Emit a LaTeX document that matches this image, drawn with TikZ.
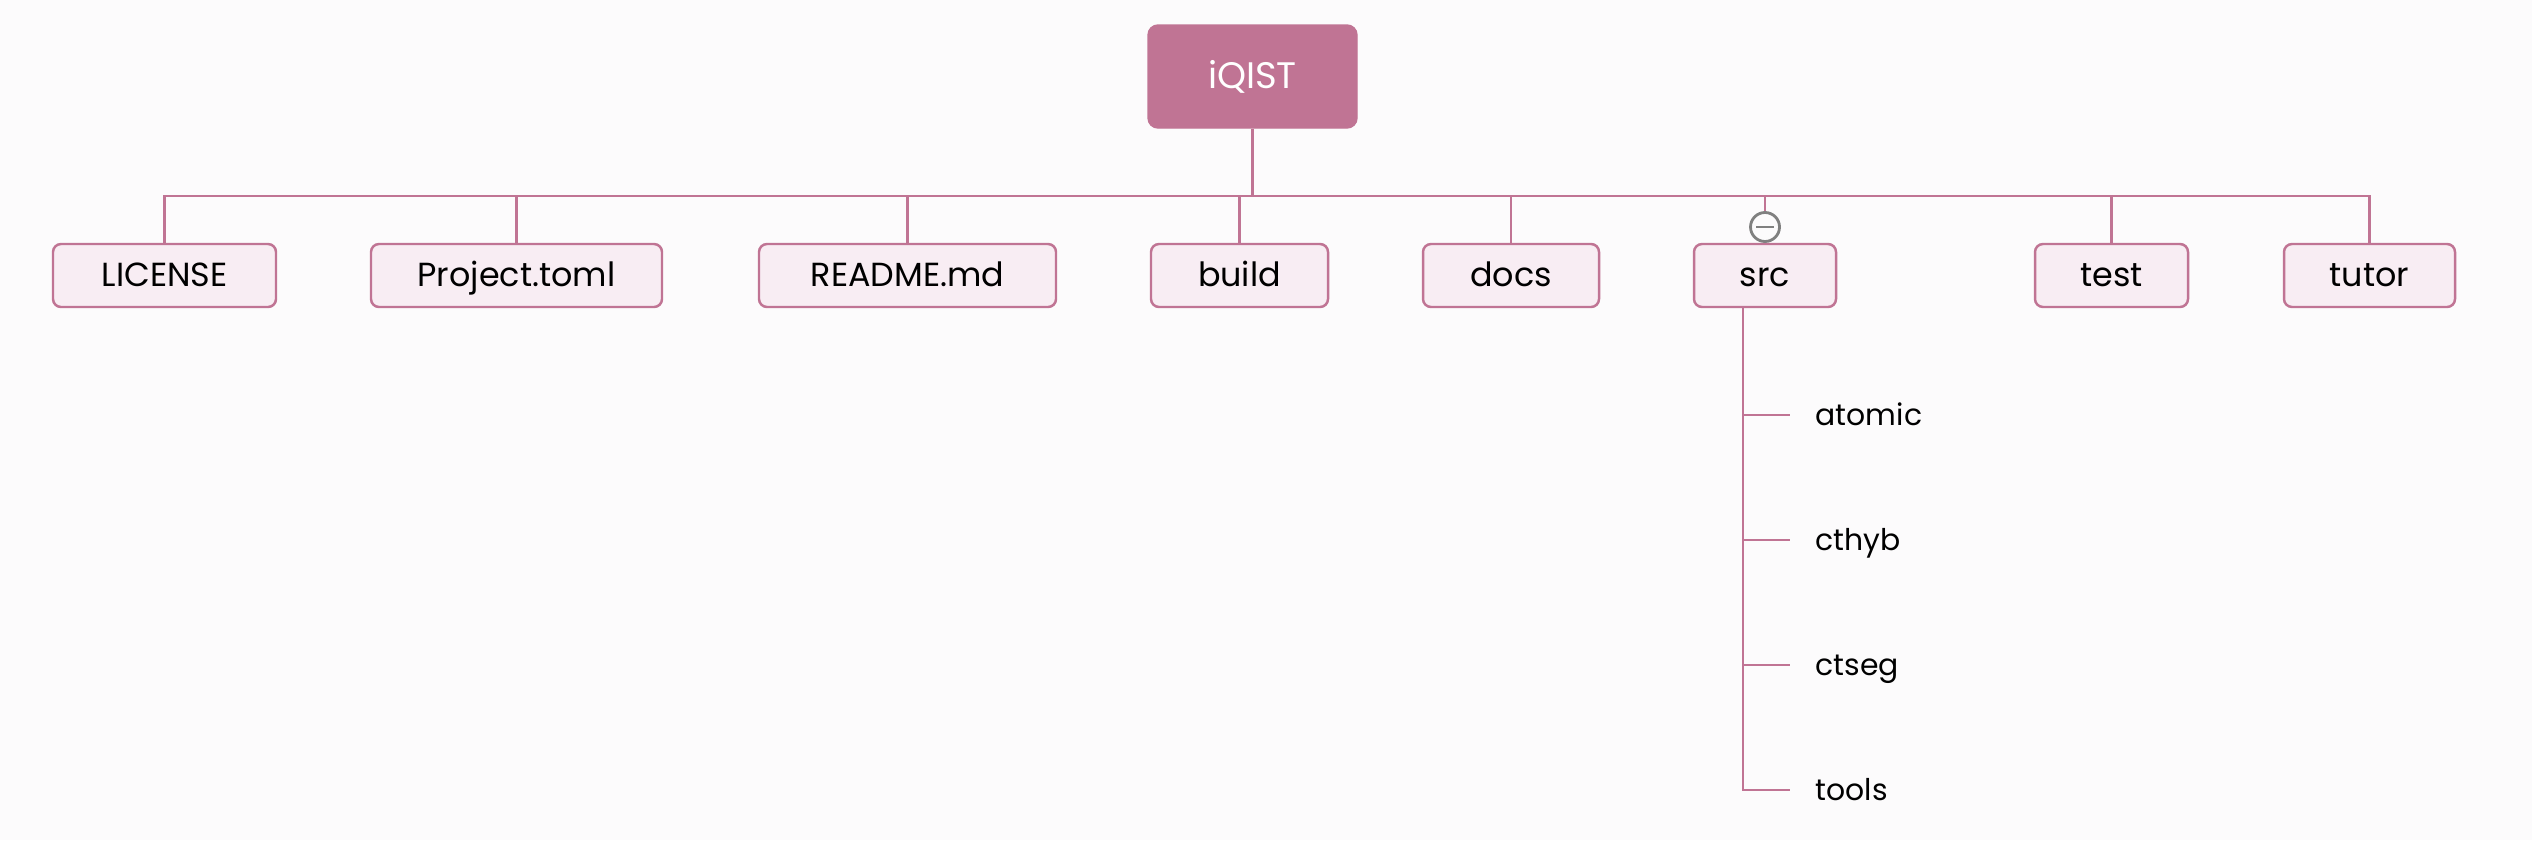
\documentclass[tikz,border=0pt]{standalone}
\usepackage{fontspec}
\setmainfont{Poppins}
\usetikzlibrary{positioning}
\definecolor{bgcol}{HTML}{FCFBFC}
\definecolor{rose}{HTML}{C07494}
\definecolor{leafcol}{HTML}{F8EDF3}
\definecolor{foldcol}{HTML}{808080}

\begin{document}
\begin{tikzpicture}[
    rootbox/.style={fill=rose, draw=rose, rounded corners=0.1cm, text=white,
      minimum width=2.09cm, minimum height=1.03cm, font=\fontsize{10.5}{13}\selectfont},
    leafbox/.style={fill=leafcol, draw=rose, line width=0.7pt, rounded corners=0.08cm,
      minimum height=0.63cm, text height=0.8em, text depth=0.18em,
      font=\fontsize{9.5}{11}\selectfont},
    sublabel/.style={anchor=west, inner xsep=0.25cm, text height=0.78em, text depth=0.2em,
      font=\fontsize{8.5}{10}\selectfont},
    link/.style={draw=rose, line width=0.6pt},
  ]
    \fill[bgcol] (0,0) rectangle (25.32,-8.40);
    \useasboundingbox (0,0) rectangle (25.32,-8.40);

    \node[rootbox] (iqist) at (12.525,-0.765) {iQIST};

    \node[leafbox, minimum width=2.23cm] (license) at (1.645,-2.755) {LICENSE};
    \node[leafbox, minimum width=2.91cm] (project) at (5.165,-2.755) {Project.toml};
    \node[leafbox, minimum width=2.97cm] (readme) at (9.075,-2.755) {README.md};
    \node[leafbox, minimum width=1.77cm] (build) at (12.395,-2.755) {build};
    \node[leafbox, minimum width=1.76cm] (docs) at (15.11,-2.755) {docs};
    \node[leafbox, minimum width=1.42cm] (src) at (17.65,-2.755) {src};
    \node[leafbox, minimum width=1.53cm] (test) at (21.115,-2.755) {test};
    \node[leafbox, minimum width=1.71cm] (tutor) at (23.695,-2.755) {tutor};

    % fold marker above src
    \node[circle, draw=foldcol, fill=bgcol, line width=0.8pt, minimum size=0.29cm,
      inner sep=0pt] (srcfold) at (17.65,-2.27) {};
    \draw[foldcol, line width=0.8pt] ([xshift=-0.09cm]srcfold.center) -- ([xshift=0.09cm]srcfold.center);

    \coordinate (bus) at (12.525,-1.96);
    \draw[link] (iqist.south) -- (bus);
    \foreach \n in {license,project,readme,build,docs,test,tutor}
      \draw[link] (bus) -| (\n.north);
    \draw[link] (bus) -| (srcfold.north);

    % contents of src
    \coordinate (spine) at ([xshift=-0.22cm]src.south);
    \node[sublabel] (atomic) at (17.90,-4.15) {atomic};
    \node[sublabel] (cthyb) at (17.90,-5.40) {cthyb};
    \node[sublabel] (ctseg) at (17.90,-6.65) {ctseg};
    \node[sublabel] (tools) at (17.90,-7.90) {tools};
    \foreach \n in {atomic,cthyb,ctseg,tools}
      \draw[link] (spine) |- (\n.west);
\end{tikzpicture}
\end{document}
